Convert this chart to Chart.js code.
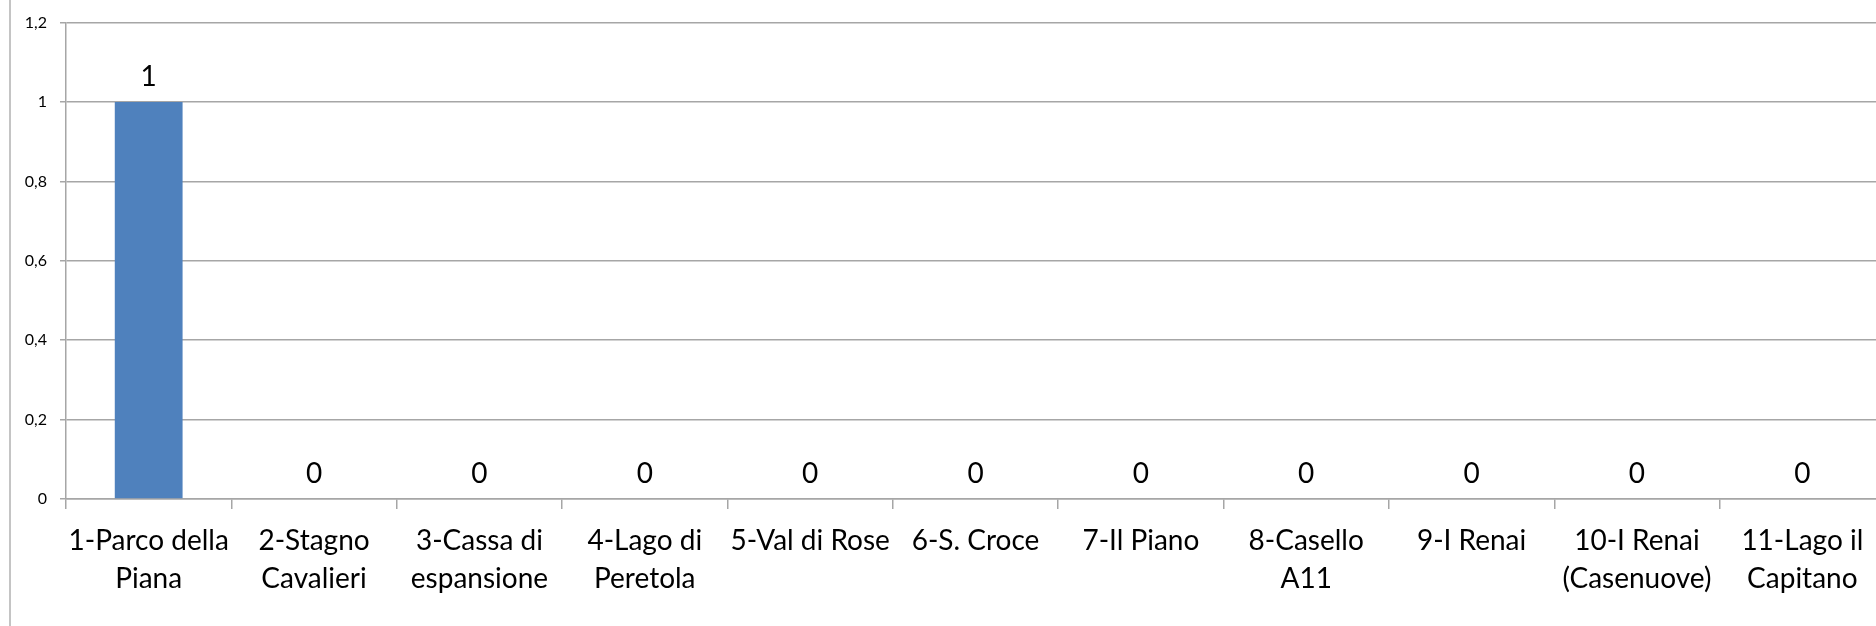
<!DOCTYPE html>
<html>
<head>
<meta charset="utf-8">
<script src="https://cdn.jsdelivr.net/npm/chart.js@4/dist/chart.umd.min.js"></script>
<style>
  html, body { margin: 0; padding: 0; background: #fff; overflow: hidden; }
  #wrap { width: 1876px; height: 626px; overflow: hidden; position: relative; }
  canvas { display: block; }
</style>
</head>
<body>
<div id="wrap"><canvas id="c" width="1885" height="626"></canvas></div>
<script>
// Sampling sites
const categories = [
  ['1-Parco della', 'Piana'],
  ['2-Stagno', 'Cavalieri'],
  ['3-Cassa di', 'espansione'],
  ['4-Lago di', 'Peretola'],
  '5-Val di Rose',
  '6-S. Croce',
  '7-Il Piano',
  ['8-Casello', 'A11'],
  '9-I Renai',
  ['10-I Renai', '(Casenuove)'],
  ['11-Lago il', 'Capitano']
];
// Count per site
const values = [1, 0, 0, 0, 0, 0, 0, 0, 0, 0, 0];
// Y axis range and step
const yMin = 0;
const yMax = 1.2;
const yStep = 0.2;

const FONT = 'Lato, "Open Sans", sans-serif';

// Value labels above each bar
const valueLabels = {
  id: 'valueLabels',
  afterDatasetsDraw(chart) {
    const ctx = chart.ctx;
    const meta = chart.getDatasetMeta(0);
    ctx.save();
    ctx.font = '28px ' + FONT;
    ctx.fillStyle = '#000';
    ctx.textAlign = 'center';
    ctx.textBaseline = 'alphabetic';
    meta.data.forEach((bar, i) => {
      ctx.fillText(String(values[i]), bar.x, bar.y - 16);
    });
    ctx.restore();
  }
};

// Outer frame edge on the left side
const frame = {
  id: 'frame',
  beforeDraw(chart) {
    const ctx = chart.ctx;
    ctx.save();
    ctx.strokeStyle = '#c4c4c4';
    ctx.lineWidth = 2;
    ctx.beginPath();
    ctx.moveTo(10, 0);
    ctx.lineTo(10, chart.height);
    ctx.stroke();
    ctx.restore();
  }
};

new Chart(document.getElementById('c'), {
  type: 'bar',
  data: {
    labels: categories,
    datasets: [{
      data: values,
      backgroundColor: '#4f81bd',
      borderWidth: 0,
      barPercentage: 0.41,
      categoryPercentage: 1
    }]
  },
  options: {
    responsive: false,
    animation: false,
    devicePixelRatio: 1,
    layout: { padding: { top: 19, right: 0, bottom: 0, left: 0 } },
    plugins: {
      legend: { display: false },
      tooltip: { enabled: false }
    },
    scales: {
      x: {
        afterFit(scale) { scale.height = 127; },
        grid: {
          drawOnChartArea: false,
          drawTicks: true,
          tickLength: 10,
          color: '#a6a6a6',
          lineWidth: 1.5,
          offset: true
        },
        border: { display: true, color: '#a6a6a6', width: 1.5 },
        ticks: {
          maxRotation: 0,
          autoSkip: false,
          padding: 13,
          color: '#000',
          font: { family: FONT, size: 28, lineHeight: '38px' }
        }
      },
      y: {
        min: yMin,
        max: yMax,
        afterFit(scale) { scale.width = 66; },
        grid: {
          color: '#a6a6a6',
          lineWidth: 1.5,
          drawTicks: true,
          tickLength: 6
        },
        border: { display: true, color: '#a6a6a6', width: 1.5 },
        ticks: {
          stepSize: yStep,
          padding: 13,
          color: '#000',
          font: { family: FONT, size: 16 },
          callback: (v) => Number(v.toFixed(1)).toString().replace('.', ',')
        }
      }
    }
  },
  plugins: [frame, valueLabels]
});
</script>
</body>
</html>
